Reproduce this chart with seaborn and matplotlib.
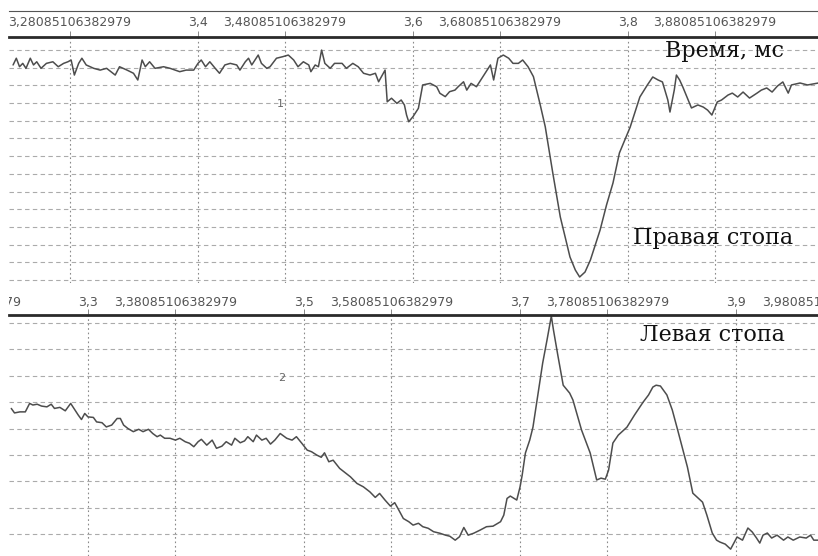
# Две стопы: сигналы правой и левой стопы во времени
import matplotlib.pyplot as plt
import seaborn as sns

# правая стопа (верхняя панель)
right_t = [3.228, 3.231, 3.234, 3.237, 3.240, 3.244, 3.247, 3.250, 3.254, 3.259,
           3.265, 3.270, 3.275, 3.279, 3.282, 3.285, 3.289, 3.292, 3.296, 3.303,
           3.309, 3.315, 3.323, 3.327, 3.334, 3.340, 3.344, 3.348, 3.351, 3.355,
           3.360, 3.368, 3.374, 3.383, 3.389, 3.396, 3.400, 3.403, 3.407, 3.411,
           3.416, 3.420, 3.425, 3.430, 3.436, 3.439, 3.444, 3.447, 3.450, 3.453,
           3.456, 3.459, 3.464,
           3.467, 3.473, 3.479, 3.484, 3.489, 3.493, 3.498, 3.503, 3.505, 3.509,
           3.512, 3.515, 3.518, 3.523, 3.527, 3.534, 3.538, 3.544, 3.549, 3.554,
           3.560, 3.565, 3.568, 3.574, 3.576, 3.580, 3.585, 3.589, 3.592, 3.594,
           3.596, 3.600, 3.605, 3.609, 3.616, 3.622, 3.625, 3.630, 3.634, 3.639,
           3.642, 3.647, 3.650, 3.654, 3.659, 3.665, 3.672, 3.675, 3.679, 3.684,
           3.689, 3.693, 3.698, 3.702, 3.707, 3.712, 3.718, 3.723,
           3.730, 3.737, 3.746, 3.751, 3.755, 3.760, 3.765, 3.774, 3.780, 3.786,
           3.792, 3.802, 3.811, 3.818, 3.823, 3.828, 3.832, 3.837, 3.839, 3.843,
           3.845, 3.848, 3.851, 3.856, 3.859, 3.865, 3.870, 3.874, 3.878, 3.883,
           3.887, 3.893, 3.897, 3.902, 3.907, 3.913, 3.920, 3.924, 3.929, 3.934,
           3.939, 3.944, 3.949, 3.952, 3.960, 3.967, 3.977]
right_v = [12.15, 12.53, 12.05, 12.24, 11.96, 12.53, 12.15, 12.33, 11.96, 12.24,
           12.33, 12.05, 12.24, 12.33, 12.43, 11.58, 12.24, 12.53, 12.15, 11.96,
           11.86, 11.96, 11.58, 12.05, 11.86, 11.68, 11.30, 12.43, 12.05, 12.33,
           11.96, 12.05, 11.96, 11.77, 11.86, 11.86, 12.24, 12.43, 12.05, 12.33,
           11.96, 11.68, 12.15, 12.24, 12.15, 11.86, 12.33, 12.53, 12.15, 12.43,
           12.71, 12.24, 11.96,
           12.05, 12.53, 12.62, 12.71, 12.43, 12.05, 12.33, 12.15, 11.77, 12.15,
           12.05, 12.99, 12.24, 11.96, 12.24, 12.24, 11.96, 12.24, 12.05, 11.68,
           11.58, 11.68, 11.20, 11.86, 10.07, 10.27, 9.98, 10.17, 9.89, 9.32,
           8.94, 9.23, 9.70, 11.02, 11.11, 10.92, 10.55, 10.36, 10.64, 10.73,
           10.92, 11.20, 10.73, 11.11, 10.92, 11.49, 12.15, 11.30, 12.53, 12.71,
           12.53, 12.24, 12.24, 12.43, 12.05, 11.49, 9.98, 8.66,
           6.05, 3.56, 1.30, 0.56, 0.17, 0.45, 1.13, 2.82, 4.24, 5.48,
           7.18, 8.64, 10.34, 11.02, 11.47, 11.30, 11.19, 10.17, 9.49, 10.73,
           11.58, 11.30, 10.90, 10.17, 9.72, 9.89, 9.77, 9.60, 9.32, 10.06,
           10.17, 10.45, 10.56, 10.34, 10.62, 10.28, 10.56, 10.73, 10.85, 10.62,
           10.96, 11.19, 10.56, 11.02, 11.13, 11.02, 11.13]

# левая стопа (нижняя панель)
left_t = [3.229, 3.232, 3.237, 3.242, 3.246, 3.249, 3.253, 3.257, 3.262, 3.266,
          3.269, 3.274, 3.279, 3.284, 3.287, 3.291, 3.294, 3.297, 3.300, 3.305,
          3.308, 3.313, 3.317, 3.322, 3.327, 3.330, 3.333, 3.337, 3.342, 3.347,
          3.351, 3.356, 3.360, 3.364, 3.367, 3.371, 3.376, 3.381, 3.385, 3.390,
          3.394, 3.398, 3.402, 3.405, 3.410, 3.415, 3.419, 3.424, 3.428, 3.433,
          3.436, 3.441, 3.445, 3.448, 3.453, 3.456, 3.461, 3.465,
          3.469, 3.473, 3.478, 3.484, 3.489, 3.493, 3.498, 3.503, 3.507, 3.512,
          3.516, 3.519, 3.523, 3.527, 3.533, 3.543, 3.549, 3.555, 3.561, 3.566,
          3.570, 3.575, 3.580, 3.584, 3.587, 3.592, 3.597, 3.601, 3.606, 3.610,
          3.615, 3.620, 3.626, 3.631, 3.635, 3.640, 3.644, 3.648, 3.652, 3.657,
          3.663, 3.669, 3.675, 3.682, 3.685, 3.688, 3.691, 3.697, 3.700, 3.702,
          3.705, 3.709, 3.712, 3.721, 3.725, 3.729, 3.731, 3.735, 3.740, 3.746,
          3.749, 3.757, 3.765, 3.771, 3.775, 3.779, 3.782, 3.786, 3.791, 3.799,
          3.806, 3.814, 3.819, 3.823, 3.826, 3.830, 3.836, 3.841, 3.846, 3.855,
          3.860, 3.869, 3.873, 3.878, 3.882, 3.885, 3.890, 3.895, 3.898, 3.901,
          3.906, 3.911, 3.915, 3.919, 3.922, 3.925, 3.929, 3.933, 3.938, 3.944,
          3.948, 3.953, 3.959, 3.965, 3.969, 3.972, 3.976]
left_v = [4.76, 4.59, 4.63, 4.63, 4.95, 4.89, 4.92, 4.85, 4.82, 4.92,
          4.76, 4.80, 4.67, 4.95, 4.76, 4.51, 4.34, 4.57, 4.44, 4.42,
          4.25, 4.22, 4.06, 4.13, 4.38, 4.38, 4.13, 4.00, 3.88, 3.97,
          3.88, 3.97, 3.81, 3.69, 3.75, 3.63, 3.63, 3.56, 3.63, 3.50,
          3.44, 3.31, 3.50, 3.59, 3.37, 3.56, 3.25, 3.33, 3.50, 3.37,
          3.63, 3.46, 3.53, 3.69, 3.50, 3.75, 3.56, 3.63,
          3.41, 3.56, 3.81, 3.63, 3.56, 3.69, 3.44, 3.18, 3.12, 2.99,
          2.91, 3.08, 2.74, 2.80, 2.49, 2.17, 1.92, 1.79, 1.60, 1.39,
          1.54, 1.29, 1.06, 1.19, 0.97, 0.59, 0.47, 0.34, 0.41, 0.28,
          0.22, 0.09, 0.03, -0.04, -0.08, -0.23, -0.10, 0.25, -0.04, 0.03,
          0.15, 0.28, 0.30, 0.47, 0.72, 1.35, 1.44, 1.29, 1.78, 2.23,
          3.07, 3.56, 4.05, 6.48, 7.35, 8.26, 7.73, 6.78, 5.64, 5.34,
          5.08, 3.94, 3.07, 2.05, 2.12, 2.08, 2.42, 3.45, 3.75, 4.05,
          4.51, 5.00, 5.27, 5.57, 5.64, 5.61, 5.27, 4.70, 3.94, 2.54,
          1.55, 1.21, 0.72, 0.04, -0.23, -0.30, -0.38, -0.57, -0.34, -0.11,
          -0.23, 0.23, 0.08, -0.15, -0.34, -0.04, 0.04, -0.15, -0.04, -0.23,
          -0.11, -0.23, -0.11, -0.15, -0.04, -0.23, -0.23]

# подписи шкал времени
top_ticks = [3.28085106382979, 3.4, 3.48085106382979, 3.6, 3.68085106382979,
             3.8, 3.88085106382979]
top_labels = ["3,28085106382979", "3,4", "3,48085106382979", "3,6",
              "3,68085106382979", "3,8", "3,88085106382979"]
bottom_ticks = [3.18085106382979, 3.3, 3.38085106382979, 3.5, 3.58085106382979,
                3.7, 3.78085106382979, 3.9, 3.98085106382979]
bottom_labels = ["3,18085106382979", "3,3", "3,38085106382979", "3,5",
                 "3,58085106382979", "3,7", "3,78085106382979", "3,9",
                 "3,98085106382979"]

sns.set_style("white")
plt.rcParams['font.family'] = ['DejaVu Sans']

W, H = 818, 556
fig = plt.figure(figsize=(W / 100, H / 100), dpi=100)
x0 = 9 / W
wd = (W - 9) / W


def box(top_px, bot_px):
    return [x0, 1 - bot_px / H, wd, (bot_px - top_px) / H]


def header(ax, ticks, labels, xlim, ypos, top_line):
    ax.set_xlim(*xlim)
    ax.set_ylim(0, 1)
    for s in ax.spines.values():
        s.set_visible(False)
    if top_line:
        ax.spines['top'].set_visible(True)
        ax.spines['top'].set_linewidth(0.8)
        ax.spines['top'].set_color('#555555')
    ax.set_xticks([t for t in ticks if xlim[0] < t < xlim[1]])
    ax.set_yticks([])
    ax.tick_params(axis='x', direction='in', length=4, width=0.7,
                   color='#888888', labelbottom=False, top=False, bottom=True)
    # the labels at both ends are cut by the frame, as in the original
    for t, lab in zip(ticks, labels):
        ax.text(t, ypos, lab, ha='center', va='center', fontsize=9,
                color='#555555', clip_on=True)


def panel(ax, t, v, ticks, xlim, ylim, ny):
    sns.lineplot(x=t, y=v, ax=ax, color='#4d4d4d', linewidth=1.1,
                 estimator=None, sort=False)
    ax.set_xlim(*xlim)
    ax.set_ylim(*ylim)
    ax.set_xticks(ticks)
    ax.set_yticks(range(ny))
    ax.set_xlim(*xlim)
    ax.tick_params(length=0, labelbottom=False, labelleft=False)
    ax.set_xlabel('')
    ax.set_ylabel('')
    ax.grid(axis='x', linestyle=(0, (1.5, 2.5)), color='#8a8a8a', linewidth=0.8)
    ax.grid(axis='y', linestyle=(0, (4, 3)), color='#ababab', linewidth=0.8)
    for s in ax.spines.values():
        s.set_visible(False)
    ax.spines['top'].set_visible(True)
    ax.spines['top'].set_linewidth(2.0)
    ax.spines['top'].set_color('#2a2a2a')


top_xlim = (3.2242, 3.9767)
bot_xlim = (3.2269, 3.9759)

h1 = fig.add_axes(box(11, 37))
header(h1, top_ticks, top_labels, top_xlim, 0.56, True)
ax1 = fig.add_axes(box(37, 283))
panel(ax1, right_t, right_v, top_ticks, top_xlim, (-0.17, 13.73), 14)

h2 = fig.add_axes(box(283, 315))
header(h2, bottom_ticks, bottom_labels, bot_xlim, 0.38, False)
ax2 = fig.add_axes(box(315, 556))
panel(ax2, left_t, left_v, bottom_ticks, bot_xlim, (-0.83, 8.30), 9)

serif = ['DejaVu Serif']
ax1.text(0.811, 0.919, "Время, мс", transform=ax1.transAxes, ha='left',
         va='baseline', fontsize=16, family=serif, color='#111111')
ax1.text(0.771, 0.159, "Правая стопа", transform=ax1.transAxes, ha='left',
         va='baseline', fontsize=16, family=serif, color='#111111')
ax2.text(0.780, 0.892, "Левая стопа", transform=ax2.transAxes, ha='left',
         va='baseline', fontsize=16, family=serif, color='#111111')
ax1.text(0.335, 0.728, "1", transform=ax1.transAxes, ha='center',
         va='center', fontsize=8, color='#666666')
ax2.text(0.3375, 0.739, "2", transform=ax2.transAxes, ha='center',
         va='center', fontsize=8, color='#666666')

fig.savefig("out.png", dpi=100, facecolor='white')
